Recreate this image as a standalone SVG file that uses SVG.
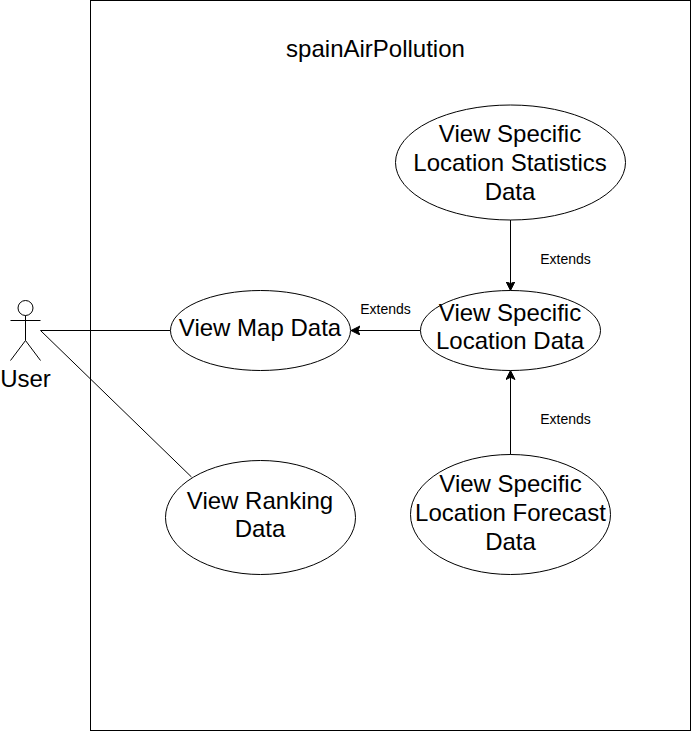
<svg xmlns="http://www.w3.org/2000/svg" width="691" height="731" viewBox="0 0 691 731">
<style>
text{font-family:"Liberation Sans",Arial,sans-serif;fill:#000;text-anchor:middle}
.l{font-size:24px}
.s{font-size:14px}
.shape{fill:#fff;stroke:#000;stroke-width:1}
.line{fill:none;stroke:#000;stroke-width:1}
</style>
<defs><marker id="arrow" markerUnits="userSpaceOnUse" markerWidth="10" markerHeight="10" refX="9" refY="4.5" orient="auto"><path d="M0 0L9 4.5L0 9L2.2 4.5Z" fill="#000" stroke="#000" stroke-width="1"/></marker></defs>
<rect width="691" height="731" fill="#fff"/>
<g id="system"><rect class="shape" x="90.500" y="0.500" width="600" height="730"/><text class="l" x="375.500" y="57">spainAirPollution</text></g>
<g id="connectors">
<path class="line" d="M40.500 330.500H170.500"/>
<path class="line" d="M40.500 330.500L191.500 477"/>
<path class="line" d="M420.500 330.500H351" marker-end="url(#arrow)"/>
<path class="line" d="M510.500 220V290.500" marker-end="url(#arrow)"/>
<path class="line" d="M510.500 455V370.500" marker-end="url(#arrow)"/>
</g>
<g id="user" class="line"><circle cx="25.500" cy="308" r="7.500"/><path d="M25.500 315.500V340.500M10.500 320.500H40.500M25.500 340.500L10.500 360.500M25.500 340.500L40.500 360.500"/></g>
<text class="l" x="25.500" y="387">User</text>
<g id="map"><ellipse class="shape" cx="260.500" cy="330.500" rx="90" ry="40"/><text class="l" x="260" y="336">View Map Data</text></g>
<g id="ranking"><ellipse class="shape" cx="260.500" cy="517.500" rx="95" ry="57"/><text class="l" x="260" y="509">View Ranking</text><text class="l" x="260" y="537">Data</text></g>
<g id="location"><ellipse class="shape" cx="510.500" cy="330.500" rx="90" ry="40"/><text class="l" x="510" y="321">View Specific</text><text class="l" x="510" y="349">Location Data</text></g>
<g id="statistics"><ellipse class="shape" cx="510.500" cy="162.500" rx="115" ry="57.500"/><text class="l" x="510" y="142">View Specific</text><text class="l" x="510" y="171">Location Statistics</text><text class="l" x="510" y="200">Data</text></g>
<g id="forecast"><ellipse class="shape" cx="510.500" cy="514.500" rx="100" ry="60"/><text class="l" x="510.500" y="492">View Specific</text><text class="l" x="510.500" y="521">Location Forecast</text><text class="l" x="510.500" y="550">Data</text></g>
<text class="s" x="565.500" y="264">Extends</text>
<text class="s" x="385.500" y="314">Extends</text>
<text class="s" x="565.500" y="424">Extends</text>
</svg>
